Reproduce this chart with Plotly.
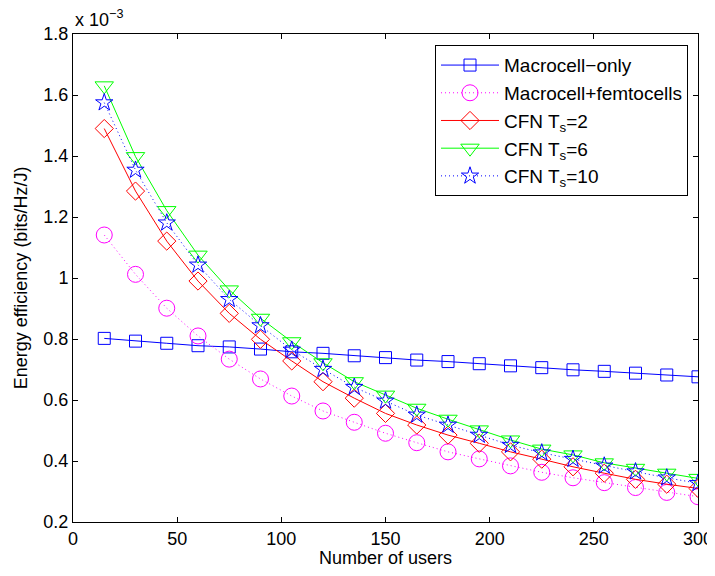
import plotly.graph_objects as go

users = [15, 30, 45, 60, 75, 90, 105, 120, 135, 150, 165, 180, 195, 210, 225, 240, 255, 270, 285, 300]

# energy efficiency in units of 1e-3 bits/Hz/J
macro_only = [0.802, 0.793, 0.786, 0.778, 0.774, 0.767, 0.758, 0.753, 0.745, 0.739,
              0.731, 0.726, 0.719, 0.712, 0.706, 0.699, 0.694, 0.688, 0.682, 0.676]
macro_femto = [1.141, 1.012, 0.901, 0.810, 0.734, 0.669, 0.613, 0.564, 0.527, 0.491,
               0.460, 0.430, 0.407, 0.384, 0.363, 0.345, 0.329, 0.313, 0.297, 0.283]
cfn_ts2 = [1.490, 1.285, 1.121, 0.990, 0.884, 0.799, 0.728, 0.660, 0.606, 0.556,
           0.518, 0.485, 0.458, 0.430, 0.406, 0.381, 0.360, 0.340, 0.324, 0.310]
cfn_ts6 = [1.630, 1.398, 1.221, 1.075, 0.961, 0.868, 0.791, 0.722, 0.660, 0.616,
           0.573, 0.537, 0.502, 0.469, 0.439, 0.420, 0.394, 0.376, 0.360, 0.343]
cfn_ts10 = [1.575, 1.354, 1.181, 1.043, 0.930, 0.844, 0.764, 0.701, 0.642, 0.597,
            0.551, 0.518, 0.485, 0.452, 0.427, 0.406, 0.384, 0.365, 0.345, 0.327]

names = ["Macrocell\u2212only", "Macrocell+femtocells", "CFN T<sub>s</sub>=2",
         "CFN T<sub>s</sub>=6", "CFN T<sub>s</sub>=10"]

x_ticks = [0, 50, 100, 150, 200, 250, 300]
y_ticks = [0.2, 0.4, 0.6, 0.8, 1.0, 1.2, 1.4, 1.6, 1.8]
y_ticklabels = ["0.2", "0.4", "0.6", "0.8", "1", "1.2", "1.4", "1.6", "1.8"]

FONT = "Liberation Sans, Arial, Helvetica, sans-serif"
FS = 18
DOT = "1px,3px"

series = [
    (macro_only, names[0], "#0000ff", "solid", "square-open", 12),
    (macro_femto, names[1], "#ff00ff", DOT, "circle-open", 16),
    (cfn_ts2, names[2], "#ff0000", "solid", "diamond-open", 14),
    (cfn_ts6, names[3], "#00ff00", "solid", "triangle-down-open", 16),
    (cfn_ts10, names[4], "#0000ff", DOT, "star-open", 13),
]

fig = go.Figure()
for ys, nm, col, dash, sym, sz in series:
    fig.add_trace(go.Scatter(
        x=users, y=ys, name=nm, mode="lines+markers",
        line=dict(color=col, width=1, dash=dash),
        marker=dict(symbol=sym, size=sz, color=col, line=dict(color=col, width=1)),
    ))

axis_common = dict(
    showline=True, linecolor="black", linewidth=1, mirror="ticks",
    ticks="inside", ticklen=5, tickcolor="black", showgrid=False, zeroline=False,
    tickfont=dict(family=FONT, size=FS, color="black"), automargin=False,
)

# page body has an 8px margin; figure offset accordingly
fig.update_layout(
    width=707, height=560,
    margin=dict(l=65, r=17, t=26, b=46),
    paper_bgcolor="white", plot_bgcolor="white",
    font=dict(family=FONT, size=FS, color="black"),
    xaxis=dict(range=[0, 300], tickvals=x_ticks,
               title=dict(text="Number of users", font=dict(family=FONT, size=FS), standoff=0),
               **axis_common),
    yaxis=dict(range=[0.2, 1.8], tickvals=y_ticks, ticktext=y_ticklabels,
               title=dict(text="Energy efficiency (bits/Hz/J)", font=dict(family=FONT, size=FS), standoff=11),
               **axis_common),
    legend=dict(x=0.984, y=0.977, xanchor="right", yanchor="top",
                bgcolor="white", bordercolor="black", borderwidth=1,
                font=dict(family=FONT, size=19, color="black"),
                tracegroupgap=0, itemwidth=58),
    showlegend=True,
)

fig.add_annotation(
    text="x 10<sup>\u22123</sup>", xref="paper", yref="paper", x=0, y=1,
    xanchor="left", yanchor="bottom", showarrow=False, yshift=2,
    font=dict(family=FONT, size=FS, color="black"),
)

fig.write_html("out.html")
